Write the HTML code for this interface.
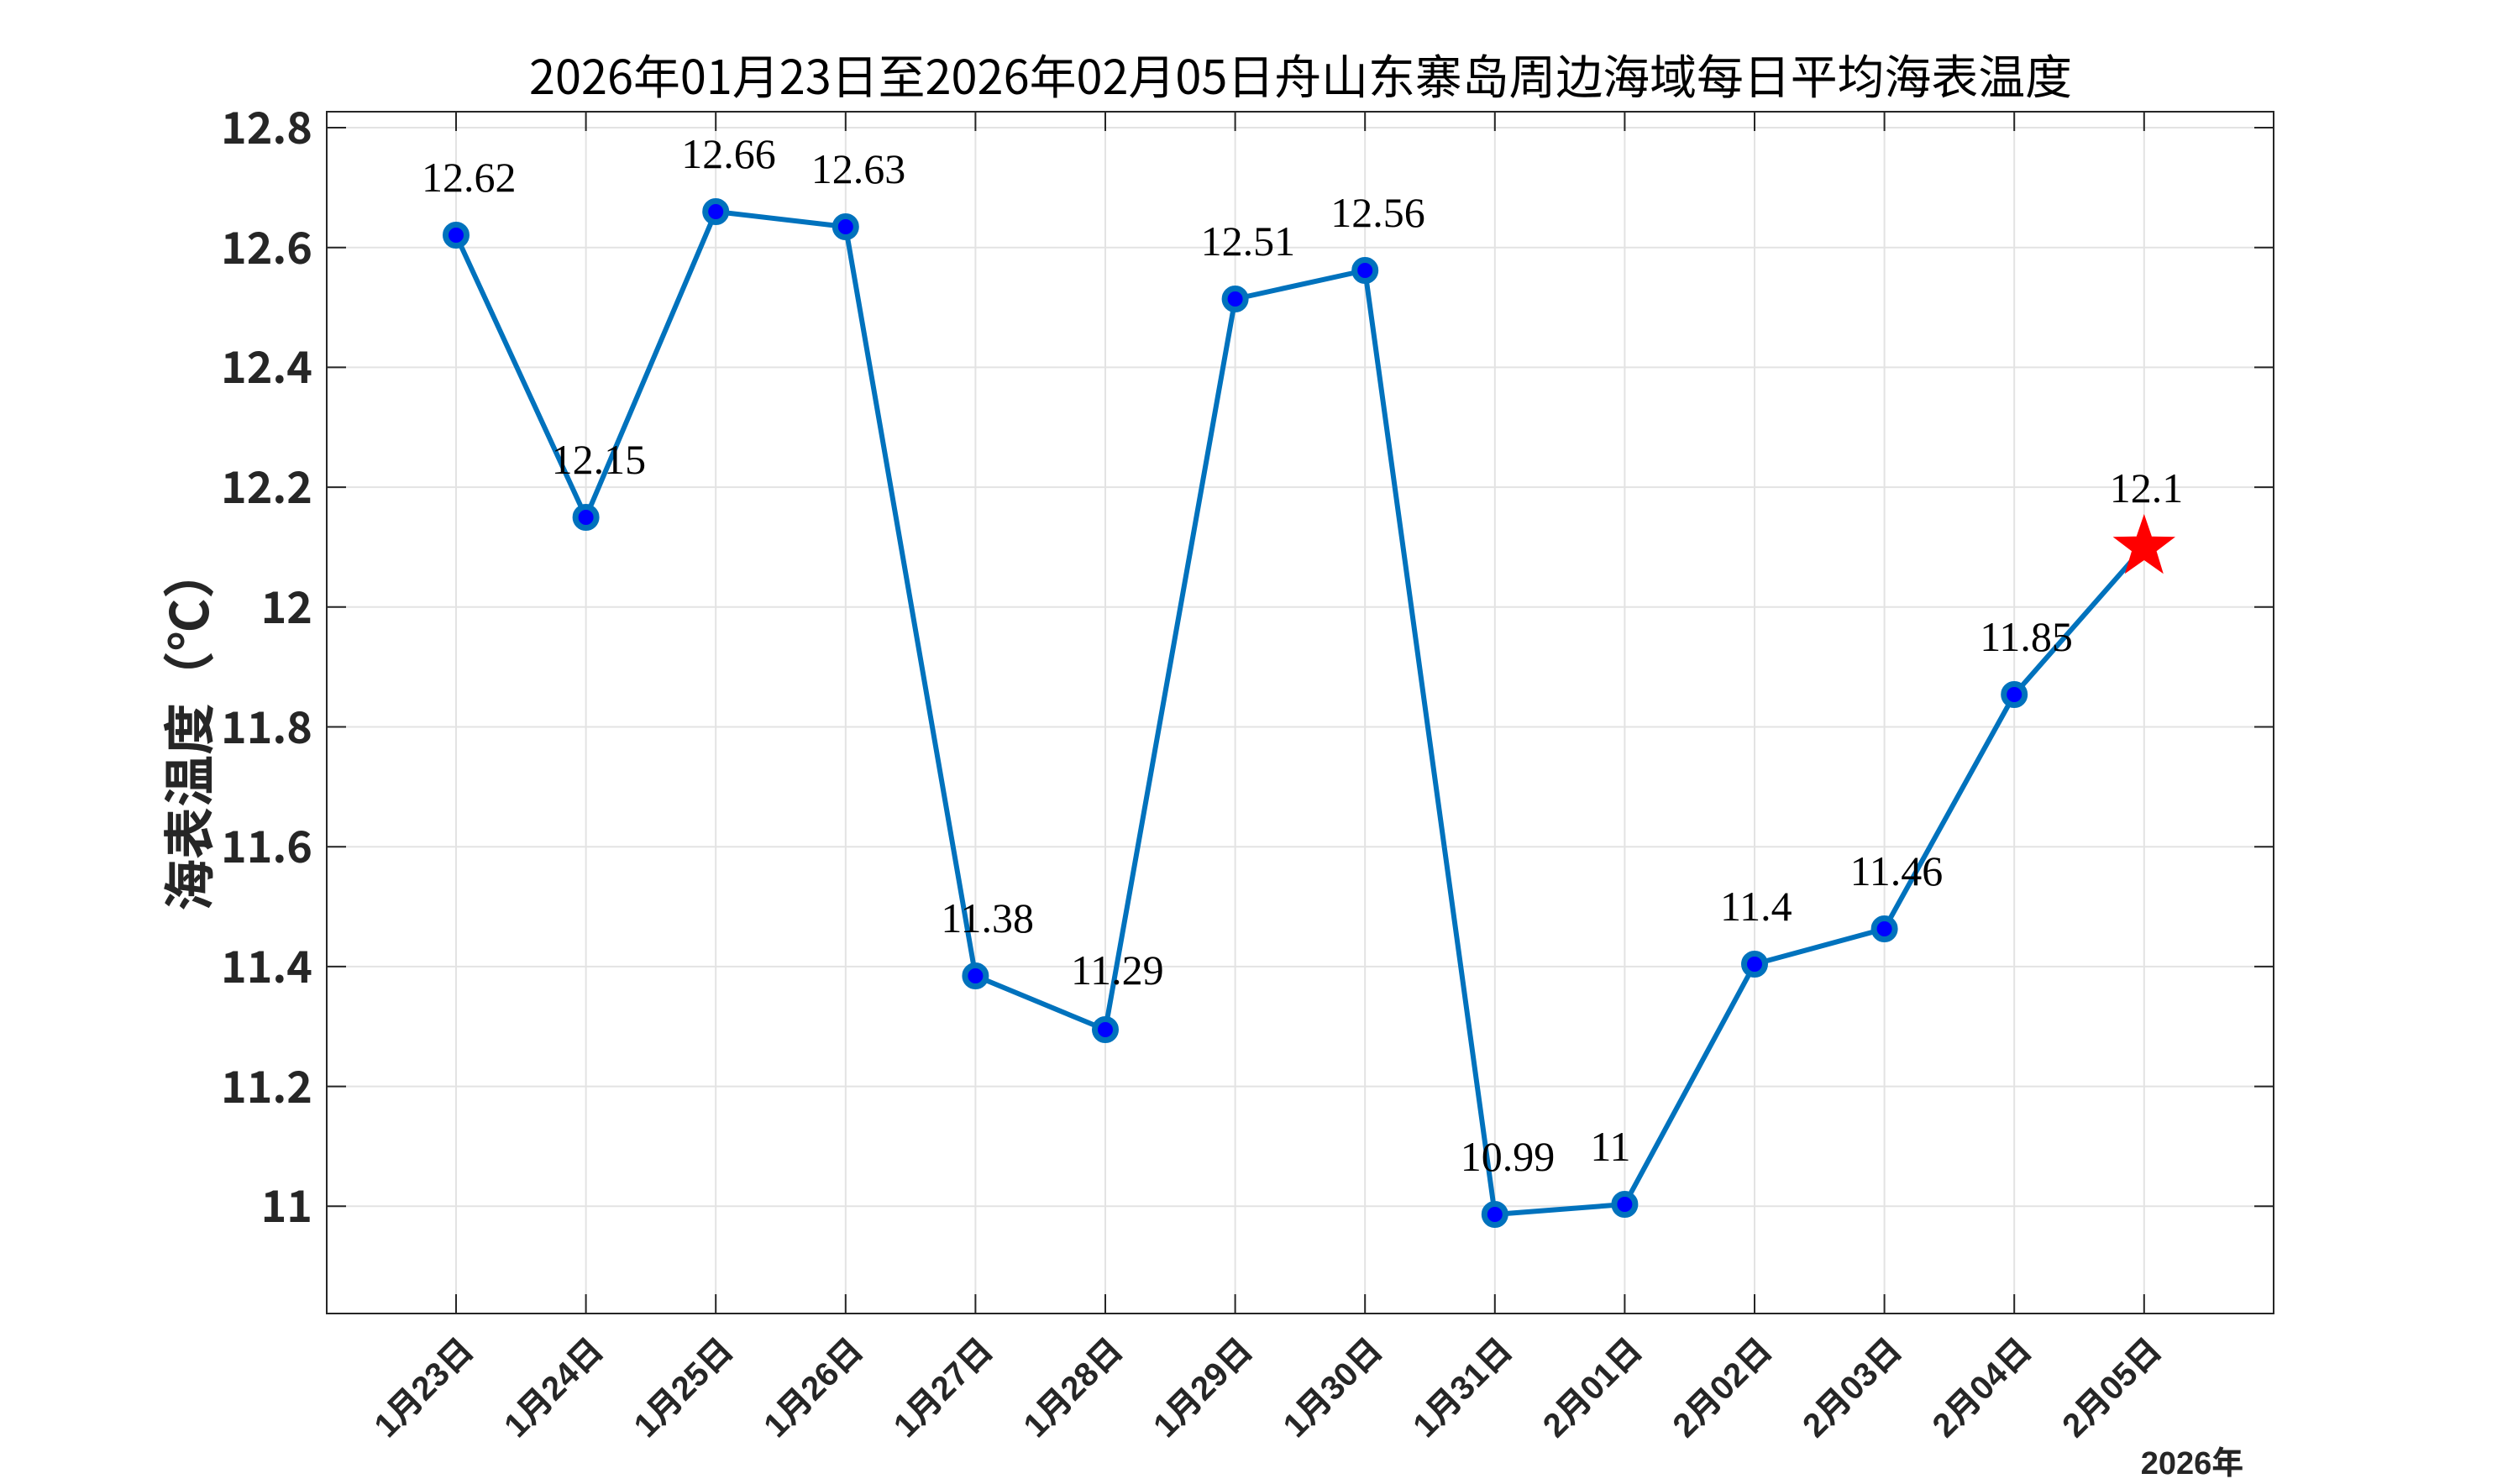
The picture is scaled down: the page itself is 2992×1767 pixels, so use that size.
<!DOCTYPE html>
<html><head><meta charset="utf-8"><style>
html,body{margin:0;padding:0;background:#fff;}
svg{display:block;}
</style></head><body>
<svg xmlns="http://www.w3.org/2000/svg" width="2992" height="1767" viewBox="0 0 2992 1767">
<rect width="2992" height="1767" fill="#fff"/>
<g stroke="#e3e3e3" stroke-width="2">
<line x1="543" y1="133" x2="543" y2="1564"/><line x1="697.6" y1="133" x2="697.6" y2="1564"/><line x1="852.2" y1="133" x2="852.2" y2="1564"/><line x1="1006.8" y1="133" x2="1006.8" y2="1564"/><line x1="1161.4" y1="133" x2="1161.4" y2="1564"/><line x1="1316" y1="133" x2="1316" y2="1564"/><line x1="1470.6" y1="133" x2="1470.6" y2="1564"/><line x1="1625.2" y1="133" x2="1625.2" y2="1564"/><line x1="1779.8" y1="133" x2="1779.8" y2="1564"/><line x1="1934.4" y1="133" x2="1934.4" y2="1564"/><line x1="2089" y1="133" x2="2089" y2="1564"/><line x1="2243.6" y1="133" x2="2243.6" y2="1564"/><line x1="2398.2" y1="133" x2="2398.2" y2="1564"/><line x1="2552.8" y1="133" x2="2552.8" y2="1564"/>
<line x1="389" y1="152" x2="2707" y2="152"/><line x1="389" y1="294.7" x2="2707" y2="294.7"/><line x1="389" y1="437.4" x2="2707" y2="437.4"/><line x1="389" y1="580.1" x2="2707" y2="580.1"/><line x1="389" y1="722.8" x2="2707" y2="722.8"/><line x1="389" y1="865.5" x2="2707" y2="865.5"/><line x1="389" y1="1008.2" x2="2707" y2="1008.2"/><line x1="389" y1="1150.9" x2="2707" y2="1150.9"/><line x1="389" y1="1293.6" x2="2707" y2="1293.6"/><line x1="389" y1="1436.3" x2="2707" y2="1436.3"/>
</g>
<g stroke="#262626" stroke-width="2">
<rect x="389" y="133" width="2318" height="1431" fill="none"/>
<path d="M543 133v23M697.6 133v23M852.2 133v23M1006.8 133v23M1161.4 133v23M1316 133v23M1470.6 133v23M1625.2 133v23M1779.8 133v23M1934.4 133v23M2089 133v23M2243.6 133v23M2398.2 133v23M2552.8 133v23"/>
<path d="M543 1564v-23M697.6 1564v-23M852.2 1564v-23M1006.8 1564v-23M1161.4 1564v-23M1316 1564v-23M1470.6 1564v-23M1625.2 1564v-23M1779.8 1564v-23M1934.4 1564v-23M2089 1564v-23M2243.6 1564v-23M2398.2 1564v-23M2552.8 1564v-23"/>
<path d="M389 152h23M389 294.7h23M389 437.4h23M389 580.1h23M389 722.8h23M389 865.5h23M389 1008.2h23M389 1150.9h23M389 1293.6h23M389 1436.3h23"/>
<path d="M2707 152h-23M2707 294.7h-23M2707 437.4h-23M2707 580.1h-23M2707 722.8h-23M2707 865.5h-23M2707 1008.2h-23M2707 1150.9h-23M2707 1293.6h-23M2707 1436.3h-23"/>
</g>
<g font-family="'Noto Sans CJK SC','Liberation Sans',sans-serif" font-weight="bold" font-size="52" fill="#262626" text-anchor="end">
<text x="372" y="171">12.8</text><text x="372" y="314">12.6</text><text x="372" y="456">12.4</text><text x="372" y="599">12.2</text><text x="372" y="742">12</text><text x="372" y="885">11.8</text><text x="372" y="1027">11.6</text><text x="372" y="1170">11.4</text><text x="372" y="1313">11.2</text><text x="372" y="1455">11</text>
</g>
<g font-family="'Liberation Sans','Noto Sans CJK SC',sans-serif" font-weight="bold" font-size="40" fill="#262626" text-anchor="end">
<text transform="translate(566,1610) rotate(-45)">1月23日</text>
<text transform="translate(720.6,1610) rotate(-45)">1月24日</text>
<text transform="translate(875.2,1610) rotate(-45)">1月25日</text>
<text transform="translate(1029.8,1610) rotate(-45)">1月26日</text>
<text transform="translate(1184.4,1610) rotate(-45)">1月27日</text>
<text transform="translate(1339,1610) rotate(-45)">1月28日</text>
<text transform="translate(1493.6,1610) rotate(-45)">1月29日</text>
<text transform="translate(1648.2,1610) rotate(-45)">1月30日</text>
<text transform="translate(1802.8,1610) rotate(-45)">1月31日</text>
<text transform="translate(1957.4,1610) rotate(-45)">2月01日</text>
<text transform="translate(2112,1610) rotate(-45)">2月02日</text>
<text transform="translate(2266.6,1610) rotate(-45)">2月03日</text>
<text transform="translate(2421.2,1610) rotate(-45)">2月04日</text>
<text transform="translate(2575.8,1610) rotate(-45)">2月05日</text>
</g>
<text x="2610" y="1755" text-anchor="middle" font-family="'Liberation Sans','Noto Sans CJK SC',sans-serif" font-weight="bold" font-size="38" fill="#262626">2026年</text>
<text transform="translate(248,868) rotate(-90)" text-anchor="middle" font-family="'Noto Sans CJK SC',sans-serif" font-weight="bold" font-size="62" fill="#262626">海表温度（℃）</text>
<text x="630" y="112" textLength="1837" lengthAdjust="spacingAndGlyphs" font-family="'Noto Sans CJK SC',sans-serif" font-size="56" fill="#000">2026年01月23日至2026年02月05日舟山东寨岛周边海域每日平均海表温度</text>
<polyline fill="none" stroke="#0072BD" stroke-width="6" stroke-linejoin="round" points="543,280 697.6,616 852.2,252 1006.8,270 1161.4,1162 1316,1226 1470.6,356 1625.2,322 1779.8,1446 1934.4,1434 2089,1148 2243.6,1106 2398.2,827 2552.8,651"/>
<g fill="#0000ff" stroke="#0072BD" stroke-width="7">
<circle cx="543" cy="280" r="12.5"/><circle cx="697.6" cy="616" r="12.5"/><circle cx="852.2" cy="252" r="12.5"/><circle cx="1006.8" cy="270" r="12.5"/><circle cx="1161.4" cy="1162" r="12.5"/><circle cx="1316" cy="1226" r="12.5"/><circle cx="1470.6" cy="356" r="12.5"/><circle cx="1625.2" cy="322" r="12.5"/><circle cx="1779.8" cy="1446" r="12.5"/><circle cx="1934.4" cy="1434" r="12.5"/><circle cx="2089" cy="1148" r="12.5"/><circle cx="2243.6" cy="1106" r="12.5"/><circle cx="2398.2" cy="827" r="12.5"/>
</g>
<polygon fill="#ff0000" points="2552.8,612 2561.9,638.7 2590,639.3 2567.6,656.3 2575.8,683.2 2552.8,667 2529.8,683.2 2538,656.3 2515.6,639.3 2543.7,638.7"/>
<g font-family="'Liberation Serif',serif" font-size="50" fill="#000">
<text x="502" y="228">12.62</text><text x="656.6" y="564">12.15</text><text x="811.2" y="200">12.66</text><text x="965.8" y="218">12.63</text><text x="1120.4" y="1110">11.38</text><text x="1275" y="1172">11.29</text><text x="1429.6" y="304">12.51</text><text x="1584.2" y="270">12.56</text><text x="1738.8" y="1394">10.99</text><text x="1893.4" y="1382">11</text><text x="2048" y="1096">11.4</text><text x="2202.6" y="1054">11.46</text><text x="2357.2" y="775">11.85</text><text x="2511.8" y="598">12.1</text>
</g>
</svg>
</body></html>
